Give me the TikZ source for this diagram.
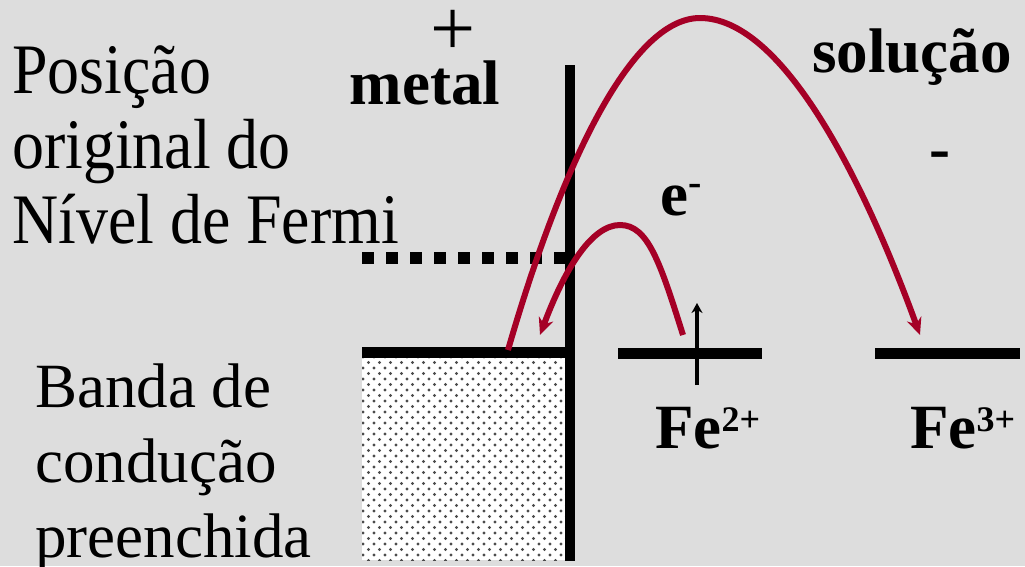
\documentclass[tikz,border=0pt]{standalone}
\usepackage{fontspec}
\setmainfont{Liberation Serif}
\newfontfamily\tallserif[FakeStretch=0.9]{Liberation Serif}
\usepackage{xcolor}
\definecolor{paper}{HTML}{DDDDDD}
\definecolor{ink}{HTML}{000000}
\definecolor{jump}{HTML}{A50026}
\usepackage{tikz}
\usetikzlibrary{arrows.meta, positioning, patterns.meta}
\tikzdeclarepattern{
  name=banddots, type=uncolored,
  bottom left={(-2pt,-2pt)}, top right={(9pt,9pt)}, tile size={(11pt,11pt)},
  code={
    \fill (0pt,0pt) circle (1.6pt);
    \fill (5.5pt,5.5pt) circle (1.6pt);
  }
}
\newcommand{\charge}[2]{\raisebox{#1}{\fontsize{36}{36}\selectfont #2}}
\tikzset{
  >={Stealth[length=17pt, width=15pt]},
  txt/.style={inner sep=0pt, align=left, text=ink, font=\fontsize{63}{75}\selectfont},
  tall/.style={txt, font=\fontsize{71}{75}\tallserif},
  bold/.style={inner sep=0pt, text=ink, font=\fontsize{63}{70}\selectfont\bfseries},
  level/.style={line width=11pt, draw=ink},
  wall/.style={line width=10pt, draw=ink},
  fermi/.style={line width=12pt, draw=ink, dash pattern=on 12pt off 12pt},
  hop/.style={->, line width=6pt, draw=jump},
  spin/.style={-{Stealth[length=10pt, width=11pt]}, line width=3.5pt, draw=ink},
}

\begin{document}
\begin{tikzpicture}[x=1pt, y=-1pt]
  \fill[paper] (0,0) rectangle (1025,566);
  \useasboundingbox (0,0) rectangle (1025,566);

  % filled conduction band of the metal
  \fill[white] (362,358) rectangle (566,560);
  \fill[pattern=banddots, pattern color=ink!70] (362,358) rectangle (566,560);

  \coordinate (bandL) at (362,352);
  \coordinate (bandR) at (566,352);
  \coordinate (fermiL) at (362,258);
  \coordinate (fermiR) at (566,258);
  \coordinate (feII-L) at (618,353);
  \coordinate (feII-R) at (762,353);
  \coordinate (feIII-L) at (875,353);
  \coordinate (feIII-R) at (1020,353);

  \draw[fermi] (fermiL) -- (fermiR);
  \draw[level] (bandL) -- (bandR);
  \draw[level] (feII-L) -- (feII-R);
  \draw[level] (feIII-L) -- (feIII-R);
  \draw[wall] (570,65) -- (570,561);

  % electron on Fe2+
  \coordinate (spinB) at (697,385);
  \coordinate (spinT) at (697,303);
  \draw[spin] (spinB) -- (spinT);

  \node[tall, anchor=base west] (orig) at (12,243)
    {Posição\\original do\\Nível de Fermi};
  \node[txt, anchor=base west] (band) at (35,557)
    {Banda de\\condução\\preenchida};

  \node[bold, anchor=base] (metal) at (425,104) {metal};
  \node[bold, anchor=base] (sol) at (912,72) {solução};
  \node[inner sep=0pt, font=\fontsize{80}{80}\selectfont] (plus) at (453,33) {+};
  \node[bold, anchor=base] (minus) at (940,169) {-};
  \node[bold, anchor=base west] (elec) at (660,215) {e\raisebox{20pt}{\fontsize{40}{40}\selectfont -}};
  \node[bold, anchor=base west] (fe2) at (655,448) {Fe\charge{17pt}{2+}};
  \node[bold, anchor=base west] (fe3) at (910,448) {Fe\charge{17pt}{3+}};

  \coordinate (outA) at (508,350);
  \coordinate (inA) at (920,335);
  \coordinate (outB) at (683,335);
  \coordinate (inB) at (540,335);
  \draw[hop] (outA) .. controls (560,170) and (630,18) .. (700,18)
    .. controls (780,18) and (860,170) .. (inA);
  \draw[hop] (outB) .. controls (660,262) and (648,225) .. (620,225)
    .. controls (592,225) and (565,268) .. (inB);
\end{tikzpicture}
\end{document}
